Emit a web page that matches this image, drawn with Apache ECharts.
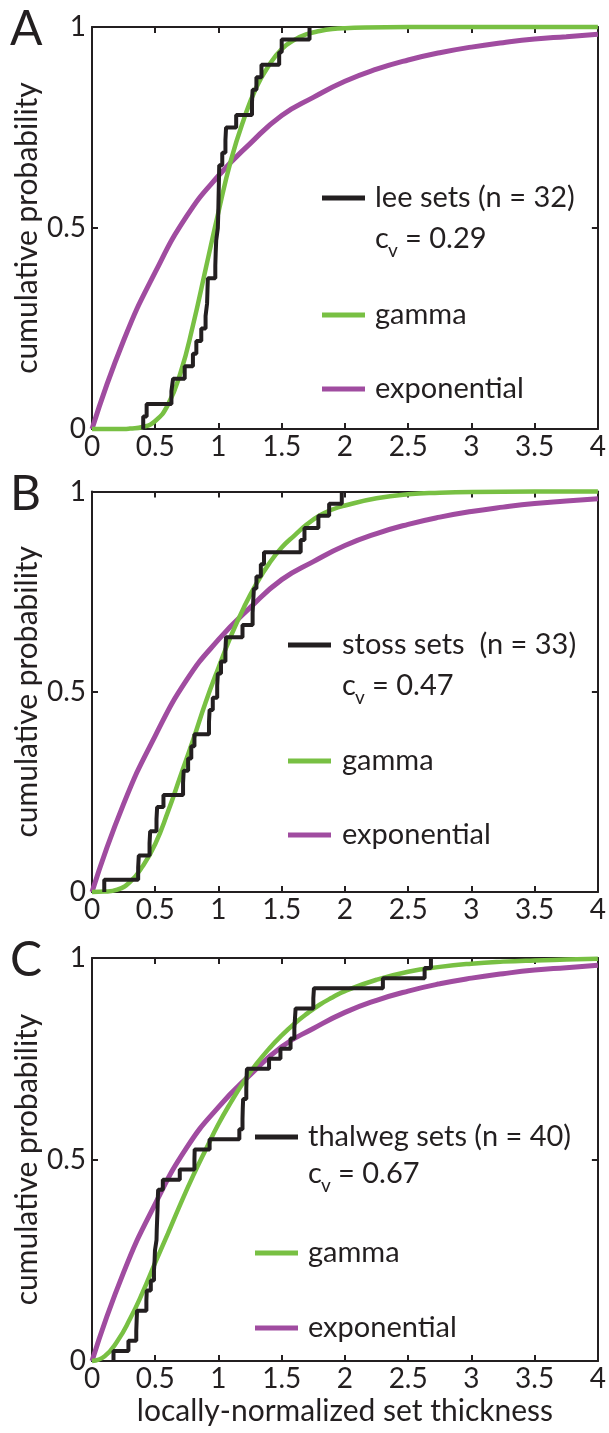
<!DOCTYPE html>
<html>
<head>
<meta charset="utf-8">
<title>cumulative probability</title>
<script src="https://cdn.jsdelivr.net/npm/echarts@6.0.0/dist/echarts.min.js"></script>
<style>
  html, body { margin: 0; padding: 0; background: #fff; }
  #chart { width: 609px; height: 1433px; }
</style>
</head>
<body>
<div id="chart"></div>
<script>
// sorted set thicknesses
var leeSets = [0.405, 0.432, 0.628, 0.641, 0.733, 0.798, 0.825, 0.864, 0.898, 0.91,
    0.913, 0.916, 0.975, 0.978, 0.982, 0.995, 0.998, 1.0, 1.002, 1.004,
    1.006, 1.03, 1.055, 1.06, 1.14, 1.265, 1.27, 1.3, 1.34, 1.48, 1.5, 1.72];
var stossSets = [0.097, 0.365, 0.37, 0.455, 0.46, 0.51, 0.515, 0.565, 0.72, 0.725,
    0.76, 0.785, 0.81, 0.925, 0.93, 0.955, 0.99, 0.995, 1.02, 1.055,
    1.06, 1.19, 1.27, 1.275, 1.28, 1.3, 1.335, 1.36, 1.65, 1.68,
    1.79, 1.875, 1.975];
var thalwegSets = [0.17, 0.288, 0.35, 0.353, 0.356, 0.43, 0.433, 0.465, 0.49, 0.495,
    0.498, 0.51, 0.512, 0.515, 0.518, 0.52, 0.523, 0.56, 0.694, 0.81,
    0.812, 0.93, 1.165, 1.19, 1.192, 1.195, 1.22, 1.222, 1.225, 1.4,
    1.49, 1.57, 1.6, 1.605, 1.61, 1.75, 1.755, 2.3, 2.63, 2.68];

// exponential curve (same in every panel), read every 0.25
var expX = [0, 0.25, 0.5, 0.75, 1, 1.25, 1.5, 1.75, 2, 2.25, 2.5, 2.75, 3, 3.25, 3.5, 3.75, 4];
var expY = [0, 0.22, 0.39, 0.53, 0.63, 0.71, 0.78, 0.825, 0.865, 0.895, 0.918, 0.936, 0.95, 0.961, 0.97, 0.976, 0.982];

// gamma curves
var gammaLeeX = [0, 0.25, 0.3, 0.4, 0.5, 0.6, 0.7, 0.8, 0.9, 1.0, 1.1, 1.2, 1.3, 1.4, 1.5, 1.6, 1.7, 1.8, 1.9, 2, 2.5, 3, 3.5, 4];
var gammaLeeY = [0, 0, 0.001, 0.005, 0.02, 0.06, 0.14, 0.26, 0.4, 0.54, 0.67, 0.77, 0.85, 0.905, 0.945, 0.968, 0.982, 0.99, 0.995, 0.997, 1, 1, 1, 1];
var gammaStossX = [0, 0.1, 0.2, 0.3, 0.4, 0.5, 0.6, 0.7, 0.8, 0.9, 1.0, 1.1, 1.2, 1.3, 1.4, 1.5, 1.6, 1.7, 1.8, 1.9, 2.0, 2.25, 2.5, 2.75, 3, 3.5, 4];
var gammaStossY = [0, 0.001, 0.006, 0.025, 0.064, 0.12, 0.2, 0.29, 0.38, 0.475, 0.56, 0.64, 0.71, 0.77, 0.82, 0.86, 0.89, 0.918, 0.94, 0.955, 0.965, 0.983, 0.993, 0.997, 0.999, 1, 1];
var gammaThalwegX = [0, 0.1, 0.2, 0.3, 0.4, 0.5, 0.6, 0.7, 0.8, 0.9, 1.0, 1.1, 1.2, 1.3, 1.4, 1.5, 1.6, 1.7, 1.8, 1.9, 2, 2.25, 2.5, 2.75, 3, 3.25, 3.5, 3.75, 4];
var gammaThalwegY = [0, 0.012, 0.049, 0.104, 0.17, 0.244, 0.316, 0.39, 0.46, 0.525, 0.588, 0.643, 0.693, 0.737, 0.775, 0.808, 0.837, 0.862, 0.884, 0.902, 0.918, 0.946, 0.966, 0.978, 0.986, 0.991, 0.994, 0.996, 0.998];

var panelLetters = ['A', 'B', 'C'];
var setLabels = ['lee sets (n = 32)', 'stoss sets  (n = 33)', 'thalweg sets (n = 40)'];
var cvLabels = ['= 0.29', '= 0.47', '= 0.67'];

var INK = '#231f20';
var GREEN = '#78c043';
var PURPLE = '#a04ca0';
var FONT = 'Lato';

var sets = [leeSets, stossSets, thalwegSets];
var gammaX = [gammaLeeX, gammaStossX, gammaThalwegX];
var gammaY = [gammaLeeY, gammaStossY, gammaThalwegY];

var grids = [
    {left: 92, width: 509, top: 27, height: 402},
    {left: 92, width: 509, top: 491.5, height: 400.5},
    {left: 92, width: 509, top: 958, height: 403}
];
var legendPos = [
    {lineX: 322, textX: 375, y1: 198, y2: 239, y3: 315, y4: 389},
    {lineX: 288, textX: 342, y1: 645, y2: 686, y3: 761, y4: 835},
    {lineX: 255, textX: 308, y1: 1137, y2: 1174, y3: 1253, y4: 1328}
];

function ecdf(vals) {
    var n = vals.length;
    var pts = [[vals[0], 0]];
    vals.forEach(function (v, i) { pts.push([v, (i + 1) / n]); });
    return pts;
}
function pairs(xs, ys) {
    return xs.map(function (x, i) { return [x, ys[i]]; });
}

var myChart = echarts.init(document.getElementById('chart'));

var xAxes = [], yAxes = [], series = [], graphics = [];
var tickStyle = {show: true, inside: true, length: 6, lineStyle: {color: INK, width: 2}};
var lineStyleAxis = {show: true, onZero: false, lineStyle: {color: INK, width: 2}};

grids.forEach(function (g, i) {
    var last = i === grids.length - 1;
    xAxes.push({
        gridIndex: i, type: 'value', min: 0, max: 4, interval: 0.5, position: 'bottom',
        axisLine: lineStyleAxis, axisTick: tickStyle, splitLine: {show: false},
        axisLabel: {color: INK, fontSize: 28, fontFamily: FONT, margin: 4},
        name: last ? 'locally-normalized set thickness' : '',
        nameLocation: 'middle', nameGap: 35,
        nameTextStyle: {color: INK, fontSize: 30, fontFamily: FONT}
    });
    xAxes.push({
        gridIndex: i, type: 'value', min: 0, max: 4, interval: 0.5, position: 'top',
        axisLine: lineStyleAxis, axisTick: tickStyle, splitLine: {show: false},
        axisLabel: {show: false}
    });
    yAxes.push({
        gridIndex: i, type: 'value', min: 0, max: 1, interval: 0.5, position: 'left',
        axisLine: lineStyleAxis, axisTick: tickStyle, splitLine: {show: false},
        axisLabel: {color: INK, fontSize: 28, fontFamily: FONT, margin: 6},
        name: 'cumulative probability', nameLocation: 'middle', nameGap: 50,
        nameMoveOverlap: false,
        nameTextStyle: {color: INK, fontSize: 30, fontFamily: FONT}
    });
    yAxes.push({
        gridIndex: i, type: 'value', min: 0, max: 1, interval: 0.5, position: 'right',
        axisLine: lineStyleAxis, axisTick: tickStyle, splitLine: {show: false},
        axisLabel: {show: false}
    });

    series.push({
        name: 'exponential', type: 'line', xAxisIndex: 2 * i, yAxisIndex: 2 * i,
        data: pairs(expX, expY), smooth: 0.5, showSymbol: false,
        clip: false, lineStyle: {color: PURPLE, width: 5}, z: 2
    });
    series.push({
        name: 'gamma', type: 'line', xAxisIndex: 2 * i, yAxisIndex: 2 * i,
        data: pairs(gammaX[i], gammaY[i]), smooth: 0.5, showSymbol: false,
        clip: false, lineStyle: {color: GREEN, width: 4.5}, z: 3
    });
    series.push({
        name: setLabels[i], type: 'line', xAxisIndex: 2 * i, yAxisIndex: 2 * i,
        data: ecdf(sets[i]), step: 'end', showSymbol: false,
        clip: false, lineStyle: {color: INK, width: 4}, z: 4
    });

    // panel letter
    graphics.push({
        type: 'text', x: 10, y: g.top + 3,
        style: {text: panelLetters[i], fill: INK, fontSize: 48, fontFamily: FONT,
            verticalAlign: 'middle', align: 'left'}
    });

    // legend
    var p = legendPos[i];
    var items = [[p.y1, INK, setLabels[i]], [p.y3, GREEN, 'gamma'], [p.y4, PURPLE, 'exponential']];
    items.forEach(function (it) {
        graphics.push({
            type: 'line', shape: {x1: p.lineX, y1: it[0], x2: p.lineX + 43, y2: it[0]},
            style: {stroke: it[1], lineWidth: 5}
        });
        graphics.push({
            type: 'text', x: p.textX, y: it[0],
            style: {text: it[2], fill: INK, fontSize: 29, fontFamily: FONT, verticalAlign: 'middle'}
        });
    });
    graphics.push({
        type: 'text', x: p.textX, y: p.y2,
        style: {text: 'c', fill: INK, fontSize: 29, fontFamily: FONT, verticalAlign: 'middle'}
    });
    graphics.push({
        type: 'text', x: p.textX + 13, y: p.y2 + 12,
        style: {text: 'v', fill: INK, fontSize: 19, fontFamily: FONT, verticalAlign: 'middle'}
    });
    graphics.push({
        type: 'text', x: p.textX + 30, y: p.y2,
        style: {text: cvLabels[i], fill: INK, fontSize: 29, fontFamily: FONT, verticalAlign: 'middle'}
    });
});

myChart.setOption({
    animation: false,
    backgroundColor: '#fff',
    grid: grids,
    xAxis: xAxes,
    yAxis: yAxes,
    series: series,
    graphic: graphics
});
</script>
</body>
</html>
